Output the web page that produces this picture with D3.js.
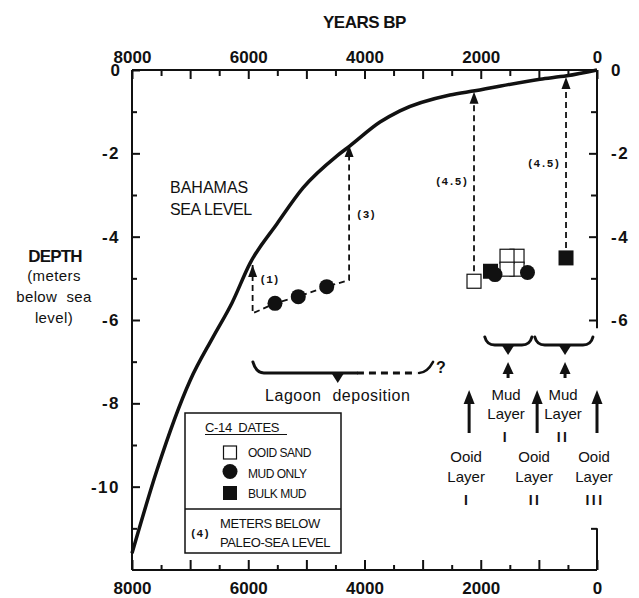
<!DOCTYPE html>
<html>
<head>
<meta charset="utf-8">
<script src="https://cdn.jsdelivr.net/npm/d3@7"></script>
<style>
body { margin: 0; background: #fff; }
svg { display: block; font-family: "Liberation Sans", Arial, Helvetica, sans-serif; }
</style>
</head>
<body>
<div id="chart"></div>
<script>
// Bahamas sea level curve (years BP, metres)
var seaYears = [8000, 7570, 7000, 6606, 6280, 5970, 5505, 5058, 4473, 4250, 3733, 3390, 2530, 2100, 980, 520, 0];
var seaDepths = [-11.6, -9.6, -7.45, -6.41, -5.59, -4.64, -3.69, -2.83, -2.06, -1.82, -1.25, -0.98, -0.6, -0.5, -0.22, -0.14, 0];

// C-14 dates
var ooidYears = [2116, 1376, 1376, 1548, 1548];
var ooidDepths = [-5.07, -4.47, -4.78, -4.47, -4.78];
var bulkYears = [1832, 533];
var bulkDepths = [-4.83, -4.51];
var mudYears = [5540, 5139, 4650, 1755, 1196];
var mudDepths = [-5.6, -5.44, -5.2, -4.91, -4.86];

// dashed lagoon path from arrow (1) through the mud dates to arrow (3)
var lagoonYears = [5925, 5925, 5540, 5139, 4650, 4265, 4265];
var lagoonDepths = [-4.68, -5.84, -5.6, -5.44, -5.2, -5.04, -1.8];

// paleo-sea level offsets of the (4.5) dates
var paleoYears = [2116, 533];
var paleoFrom = [-5.07, -4.51];
var paleoTo = [-0.52, -0.17];

// offset labels
var offsetText = ['(1)', '(3)', '(4.5)', '(4.5)'];
var offsetYears = [5925, 4265, 2116, 533];
var offsetDepths = [-5.1, -3.55, -2.75, -2.33];

// brackets: start, end, tip (years) and depth of the bar
var braceStart = [5920, 1930, 1070];
var braceEnd = [2820, 1120, 70];
var braceTip = [4460, 1530, 550];
var braceDepth = [-7.27, -6.6, -6.6];
var lagoonSolidEnd = 4130;

var mudLayerYears = [1530, 550];
var mudLayerNames = ['I', 'II'];
var ooidLayerYears = [2200, 1030, 0];
var ooidLayerNames = ['I', 'II', 'III'];

var yearTicks = [8000, 7000, 6000, 5000, 4000, 3000, 2000, 1000, 0];
var yearMinor = [7500, 6500, 5500, 4500, 3500, 2500, 1500, 500];
var depthTicks = [0, -2, -4, -6, -8, -10];
var depthMinor = [-1, -3, -5, -7, -9, -11];

var W = 639, H = 598;
var ink = '#111';
var font = '"Liberation Sans", Arial, Helvetica, sans-serif';
var mono = '"Liberation Mono", "DejaVu Sans Mono", monospace';

var svg = d3.select('#chart').append('svg')
    .attr('width', W)
    .attr('height', H);

var x = d3.scaleLinear().domain([8000, 0]).range([132, 597]);
var y = d3.scaleLinear().domain([0, -12]).range([70, 570]);

var depthFormat = function(d) {
    return d === 0 ? '0' : '-' + Math.abs(d);
};

function styleAxis(g) {
    g.select('.domain').remove();
    g.selectAll('line').attr('stroke', ink).attr('stroke-width', 2);
    g.selectAll('text')
        .attr('fill', ink)
        .attr('font-family', font)
        .attr('font-size', 17)
        .attr('font-weight', 'bold');
}

// frame lines
var frame = svg.append('g').attr('stroke', ink).attr('stroke-width', 2).attr('fill', 'none');
frame.append('line').attr('x1', x(8000)).attr('x2', x(0)).attr('y1', y(0)).attr('y2', y(0));
frame.append('line').attr('x1', x(8000)).attr('x2', x(0)).attr('y1', y(-12)).attr('y2', y(-12));
frame.append('line').attr('x1', x(8000)).attr('x2', x(8000)).attr('y1', y(0)).attr('y2', y(-12));
frame.append('line').attr('x1', x(0)).attr('x2', x(0)).attr('y1', y(0)).attr('y2', y(-6.2));
frame.append('line').attr('x1', x(0)).attr('x2', x(0)).attr('y1', y(-11)).attr('y2', y(-12));

// top axis
svg.append('g').attr('transform', 'translate(0,' + y(0) + ')')
    .call(d3.axisTop(x).tickValues(yearTicks).tickSizeInner(-9).tickSizeOuter(0).tickPadding(7)
        .tickFormat(function(d) { return d % 2000 === 0 ? d : ''; }))
    .call(styleAxis);
svg.append('g').attr('transform', 'translate(0,' + y(0) + ')')
    .call(d3.axisTop(x).tickValues(yearMinor).tickSizeInner(-6).tickSizeOuter(0).tickFormat(''))
    .call(styleAxis);

// bottom axis
svg.append('g').attr('transform', 'translate(0,' + y(-12) + ')')
    .call(d3.axisBottom(x).tickValues(yearTicks).tickSizeInner(-10).tickSizeOuter(0).tickPadding(12)
        .tickFormat(function(d) { return d % 2000 === 0 ? d : ''; }))
    .call(styleAxis);
svg.append('g').attr('transform', 'translate(0,' + y(-12) + ')')
    .call(d3.axisBottom(x).tickValues(yearMinor).tickSizeInner(-5).tickSizeOuter(0).tickFormat(''))
    .call(styleAxis);

// left axis
svg.append('g').attr('transform', 'translate(' + x(8000) + ',0)')
    .call(d3.axisLeft(y).tickValues(depthTicks).tickSizeInner(-8).tickSizeOuter(0).tickPadding(12)
        .tickFormat(depthFormat))
    .call(styleAxis);
svg.append('g').attr('transform', 'translate(' + x(8000) + ',0)')
    .call(d3.axisLeft(y).tickValues(depthMinor).tickSizeInner(-5).tickSizeOuter(0).tickFormat(''))
    .call(styleAxis);

// right axis (broken where the layer notes sit)
svg.append('g').attr('transform', 'translate(' + x(0) + ',0)')
    .call(d3.axisRight(y).tickValues(depthTicks.filter(function(d) { return d >= -6; }))
        .tickSizeInner(-8).tickSizeOuter(0).tickPadding(14).tickFormat(depthFormat))
    .call(styleAxis);
svg.append('g').attr('transform', 'translate(' + x(0) + ',0)')
    .call(d3.axisRight(y).tickValues(depthMinor.filter(function(d) { return d >= -5 || d <= -11; }))
        .tickSizeInner(-6).tickSizeOuter(0).tickFormat(''))
    .call(styleAxis);
svg.selectAll('.tick text').attr('letter-spacing', function(d) { return d < 0 && d > -20 ? 1.5 : 0; });

// axis titles
svg.append('text').attr('x', (x(8000) + x(0)) / 2).attr('y', 28)
    .attr('text-anchor', 'middle').attr('font-size', 17).attr('font-weight', 'bold')
    .attr('letter-spacing', -0.5).attr('fill', ink).text('YEARS BP');

var depthTitle = svg.append('g').attr('text-anchor', 'middle').attr('fill', ink);
depthTitle.append('text').attr('x', 55).attr('y', 262).attr('font-size', 17)
    .attr('font-weight', 'bold').attr('letter-spacing', -0.8).text('DEPTH');
['(meters', 'below  sea', 'level)'].forEach(function(t, i) {
    depthTitle.append('text').attr('x', 54).attr('y', 281 + i * 21)
        .attr('font-size', 15).attr('letter-spacing', 0.4).attr('xml:space', 'preserve').text(t);
});

// sea level curve
var line = d3.line()
    .x(function(d, i) { return x(seaYears[i]); })
    .y(function(d, i) { return y(seaDepths[i]); })
    .curve(d3.curveMonotoneX);
svg.append('path')
    .attr('d', line(seaYears))
    .attr('fill', 'none')
    .attr('stroke', ink)
    .attr('stroke-width', 3.5)
    .attr('stroke-linejoin', 'round');

svg.append('text').attr('x', 170).attr('y', 193).attr('font-size', 16).attr('fill', ink).text('BAHAMAS');
svg.append('text').attr('x', 170).attr('y', 215).attr('font-size', 16).attr('letter-spacing', -0.4)
    .attr('fill', ink).text('SEA LEVEL');

// arrow head pointing up, tip at (px, py)
function arrowUp(g, px, py, w, h) {
    g.append('path')
        .attr('d', 'M' + px + ',' + py + 'L' + (px + w / 2) + ',' + (py + h) + 'L' + (px - w / 2) + ',' + (py + h) + 'Z')
        .attr('fill', ink);
}

var notes = svg.append('g');

// dashed lagoon path
var lagoonLine = d3.line()
    .x(function(d, i) { return x(lagoonYears[i]); })
    .y(function(d, i) { return y(lagoonDepths[i]); });
notes.append('path')
    .attr('d', lagoonLine(lagoonYears))
    .attr('fill', 'none').attr('stroke', ink).attr('stroke-width', 1.8)
    .attr('stroke-dasharray', '6,4');
arrowUp(notes, x(lagoonYears[0]), y(lagoonDepths[0]), 9, 12);
arrowUp(notes, x(lagoonYears[6]), y(lagoonDepths[6]), 9, 12);

// dashed (4.5) offsets
paleoYears.forEach(function(yr, i) {
    notes.append('line')
        .attr('x1', x(yr)).attr('x2', x(yr))
        .attr('y1', y(paleoFrom[i])).attr('y2', y(paleoTo[i]) + 6)
        .attr('stroke', ink).attr('stroke-width', 1.8).attr('stroke-dasharray', '6,4');
    arrowUp(notes, x(yr), y(paleoTo[i]), 9, 12);
});

offsetText.forEach(function(t, i) {
    var right = i >= 2;
    notes.append('text')
        .attr('x', x(offsetYears[i]) + (right ? -6 : 7))
        .attr('y', y(offsetDepths[i]))
        .attr('text-anchor', right ? 'end' : 'start')
        .attr('font-family', mono).attr('font-size', 11).attr('font-weight', 'bold')
        .attr('fill', ink).text(t);
});

// C-14 symbols
function openSquare(g, cx, cy, s) {
    g.append('rect').attr('x', cx - s / 2).attr('y', cy - s / 2).attr('width', s).attr('height', s)
        .attr('fill', '#fff').attr('stroke', ink).attr('stroke-width', 1.2);
}
function fullSquare(g, cx, cy, s) {
    g.append('rect').attr('x', cx - s / 2).attr('y', cy - s / 2).attr('width', s).attr('height', s)
        .attr('fill', ink);
}
function dot(g, cx, cy, r) {
    g.append('circle').attr('cx', cx).attr('cy', cy).attr('r', r).attr('fill', ink);
}

var marks = svg.append('g');
ooidYears.forEach(function(yr, i) { openSquare(marks, x(yr), y(ooidDepths[i]), 14); });
bulkYears.forEach(function(yr, i) { fullSquare(marks, x(yr), y(bulkDepths[i]), 15); });
mudYears.forEach(function(yr, i) { dot(marks, x(yr), y(mudDepths[i]), 7.5); });

// brackets
braceStart.forEach(function(s, i) {
    var x0 = x(s), x1 = x(braceEnd[i]), xt = x(braceTip[i]), yb = y(braceDepth[i]);
    var lift = i === 0 ? 11 : 8;
    var g = notes.append('g').attr('fill', 'none').attr('stroke', ink).attr('stroke-width', 3)
        .attr('stroke-linecap', 'round');
    if (i === 0) {
        var xs = x(lagoonSolidEnd);
        g.append('path').attr('d', 'M' + x0 + ',' + (yb - lift) + 'Q' + (x0 + 3) + ',' + yb + ' ' + (x0 + 11) + ',' + yb + 'L' + xs + ',' + yb);
        g.append('path').attr('d', 'M' + xs + ',' + yb + 'L' + (x1 - 16) + ',' + yb)
            .attr('stroke-dasharray', '7,5').attr('stroke-linecap', 'butt');
        g.append('path').attr('d', 'M' + (x1 - 14) + ',' + yb + 'Q' + (x1 - 6) + ',' + yb + ' ' + x1 + ',' + (yb - lift))
            .attr('stroke-width', 2.5);
        notes.append('text').attr('x', x1 + 3).attr('y', yb).attr('font-size', 16).attr('font-weight', 'bold')
            .attr('fill', ink).text('?');
    } else {
        g.append('path').attr('d', 'M' + x0 + ',' + (yb - lift) + 'Q' + (x0 + 2) + ',' + yb + ' ' + (x0 + 10) + ',' + yb +
            'L' + (x1 - 10) + ',' + yb + 'Q' + (x1 - 2) + ',' + yb + ' ' + x1 + ',' + (yb - lift));
    }
    notes.append('path')
        .attr('d', 'M' + (xt - 7) + ',' + (yb - 1) + 'L' + (xt + 7) + ',' + (yb - 1) + 'L' + xt + ',' + (yb + 10) + 'Z')
        .attr('fill', ink);
});

notes.append('text').attr('x', x(braceTip[0])).attr('y', 401).attr('text-anchor', 'middle')
    .attr('font-size', 16).attr('letter-spacing', 0.5).attr('word-spacing', 6).attr('fill', ink)
    .text('Lagoon deposition');

// mud layers
mudLayerYears.forEach(function(yr, i) {
    var px = x(yr);
    notes.append('rect').attr('x', px - 1.5).attr('y', 372).attr('width', 3).attr('height', 6).attr('fill', ink);
    arrowUp(notes, px, 362, 11, 12);
    var t = notes.append('g').attr('text-anchor', 'middle').attr('fill', ink).attr('font-size', 15);
    t.append('text').attr('x', px - 2).attr('y', 400).text('Mud');
    t.append('text').attr('x', px - 2).attr('y', 419).text('Layer');
    t.append('text').attr('x', px - 2).attr('y', 442).attr('font-size', 14).attr('font-weight', 'bold')
        .attr('letter-spacing', 2.5).attr('opacity', 0.99).text(mudLayerNames[i]);
});

// ooid layers
ooidLayerYears.forEach(function(yr, i) {
    var px = x(yr);
    notes.append('line').attr('x1', px).attr('x2', px).attr('y1', 400).attr('y2', 433)
        .attr('stroke', ink).attr('stroke-width', 3);
    arrowUp(notes, px, 390, 11, 14);
    var t = notes.append('g').attr('text-anchor', 'middle').attr('fill', ink).attr('font-size', 15);
    t.append('text').attr('x', px - 3).attr('y', 462).text('Ooid');
    t.append('text').attr('x', px - 3).attr('y', 482).text('Layer');
    t.append('text').attr('x', px - 2).attr('y', 505).attr('font-size', 14).attr('font-weight', 'bold')
        .attr('letter-spacing', 2.5).attr('opacity', 0.99).text(ooidLayerNames[i]);
});

// legend
var legend = svg.append('g').attr('fill', ink);
legend.append('rect').attr('x', 185).attr('y', 413).attr('width', 156).attr('height', 140)
    .attr('fill', '#fff').attr('stroke', ink).attr('stroke-width', 1.5);
legend.append('line').attr('x1', 185).attr('x2', 341).attr('y1', 509).attr('y2', 509)
    .attr('stroke', ink).attr('stroke-width', 1.5);
legend.append('text').attr('x', 205).attr('y', 432).attr('font-size', 13).attr('letter-spacing', -0.3)
    .attr('word-spacing', 3).text('C-14 DATES');
legend.append('line').attr('x1', 205).attr('x2', 287).attr('y1', 434.5).attr('y2', 434.5)
    .attr('stroke', ink).attr('stroke-width', 1);
openSquare(legend, 230, 452.5, 13);
dot(legend, 230, 471.5, 7.5);
fullSquare(legend, 230, 493, 14);
['OOID SAND', 'MUD ONLY', 'BULK MUD'].forEach(function(t, i) {
    legend.append('text').attr('x', 248).attr('y', [457, 478, 498][i]).attr('font-size', 12)
        .attr('letter-spacing', -0.5).text(t);
});
legend.append('text').attr('x', 190).attr('y', 537).attr('font-family', mono).attr('font-size', 11)
    .attr('font-weight', 'bold').text('(4)');
legend.append('text').attr('x', 220).attr('y', 528).attr('font-size', 13).attr('letter-spacing', -0.4).text('METERS BELOW');
legend.append('text').attr('x', 220).attr('y', 547).attr('font-size', 13).attr('letter-spacing', -0.4).text('PALEO-SEA LEVEL');
</script>
</body>
</html>
